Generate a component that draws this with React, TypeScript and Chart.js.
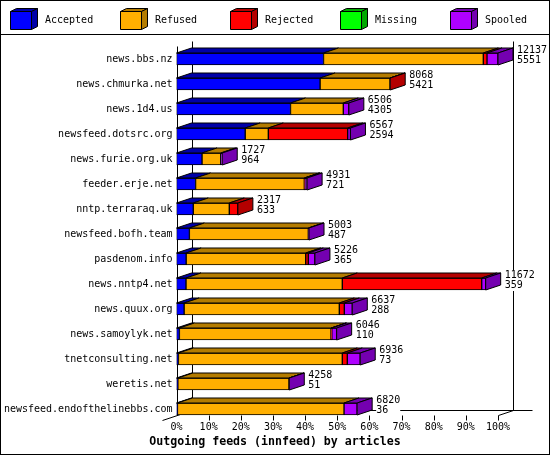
import React, { useEffect, useRef } from "react";
import { Chart, registerables } from "chart.js";

Chart.register(...registerables);

const feeds = [
  "news.bbs.nz",
  "news.chmurka.net",
  "news.1d4.us",
  "newsfeed.dotsrc.org",
  "news.furie.org.uk",
  "feeder.erje.net",
  "nntp.terraraq.uk",
  "newsfeed.bofh.team",
  "pasdenom.info",
  "news.nntp4.net",
  "news.quux.org",
  "news.samoylyk.net",
  "tnetconsulting.net",
  "weretis.net",
  "newsfeed.endofthelinebbs.com",
];
const offered = [12137, 8068, 6506, 6567, 1727, 4931, 2317, 5003, 5226, 11672, 6637, 6046, 6936, 4258, 6820];
const accepted = [5551, 5421, 4305, 2594, 964, 721, 633, 487, 365, 359, 288, 110, 73, 51, 36];
const refused = [6031, 2640, 1992, 872, 705, 4104, 1360, 4489, 4512, 5900, 5858, 5723, 6186, 4196, 6288];
const rejected = [140, 7, 0, 2997, 0, 20, 324, 0, 99, 5263, 189, 30, 189, 0, 0];
const missing = [0, 0, 0, 0, 0, 0, 0, 0, 0, 0, 0, 0, 0, 0, 0];
const spooled = [415, 0, 209, 104, 58, 86, 0, 27, 250, 150, 302, 183, 488, 11, 496];

const seriesNames = ["Accepted", "Refused", "Rejected", "Missing", "Spooled"];
const frontColors = ["#0000FF", "#FFAF00", "#FF0000", "#00FF00", "#AF00FF"];
const darkColors = ["#0000A8", "#B47C00", "#B40000", "#00A800", "#7400B0"];
const xTickStep = 10;
const chartTitle = "Outgoing feeds (innfeed) by articles";

const FONT = "'DejaVu Sans Mono', 'Liberation Mono', monospace";
const DX = 15;
const DY = 5;

const px = (v: number) => Math.round(v) + 0.5;

function poly(ctx: CanvasRenderingContext2D, pts: number[][], fill: string) {
  ctx.beginPath();
  ctx.moveTo(pts[0][0], pts[0][1]);
  for (let i = 1; i < pts.length; i++) ctx.lineTo(pts[i][0], pts[i][1]);
  ctx.closePath();
  ctx.fillStyle = fill;
  ctx.fill();
  ctx.strokeStyle = "#000";
  ctx.lineWidth = 1;
  ctx.stroke();
}

function line(ctx: CanvasRenderingContext2D, x1: number, y1: number, x2: number, y2: number) {
  ctx.beginPath();
  ctx.moveTo(x1, y1);
  ctx.lineTo(x2, y2);
  ctx.stroke();
}

const threeD = {
  id: "threeD",
  beforeDraw(chart: any) {
    const ctx = chart.ctx;
    ctx.save();
    ctx.fillStyle = "#fff";
    ctx.fillRect(0, 0, chart.width, chart.height);
    ctx.restore();
  },
  beforeDatasetsDraw(chart: any) {
    const ctx: CanvasRenderingContext2D = chart.ctx;
    const xs = chart.scales.x;
    const { top } = chart.chartArea;
    const meta0 = chart.getDatasetMeta(0);
    const lastEl = meta0.data[meta0.data.length - 1];
    const floorY = px(lastEl.y + 6);
    const x0 = px(xs.getPixelForValue(0));
    const x100 = px(xs.getPixelForValue(100));
    const topY = px(top - 1);
    ctx.save();
    ctx.strokeStyle = "#000";
    ctx.lineWidth = 1;
    line(ctx, x0, topY, x0, floorY);
    line(ctx, x0 + DX, topY - DY, x0 + DX, floorY - DY);
    line(ctx, x100 + DX, topY - DY, x100 + DX, floorY - DY);
    line(ctx, x0 + DX, floorY - DY, x100 + DX + 19, floorY - DY);
    line(ctx, x0 + DX, floorY - DY, x0 - DX, floorY + DY);
    line(ctx, x100, floorY, x100 + DX, floorY - DY);
    for (let v = xTickStep; v <= 100; v += xTickStep) {
      const xv = px(xs.getPixelForValue(v));
      line(ctx, xv, floorY, xv, floorY + 5);
    }
    ctx.restore();
  },
  afterDatasetsDraw(chart: any) {
    const ctx: CanvasRenderingContext2D = chart.ctx;
    const n = chart.data.labels.length;
    ctx.save();
    for (let i = 0; i < n; i++) {
      let last: any = null;
      let lastK = -1;
      let cy = 0;
      for (let k = 0; k < chart.data.datasets.length; k++) {
        const v = chart.data.datasets[k].data[i];
        const el = chart.getDatasetMeta(k).data[i];
        cy = el.y;
        if (v === null || v === undefined) continue;
        const t = el.y - el.height / 2;
        const a = Math.min(el.base, el.x);
        const b = Math.max(el.base, el.x);
        poly(
          ctx,
          [
            [a, t],
            [a + DX, t - DY],
            [b + DX, t - DY],
            [b, t],
          ],
          darkColors[k]
        );
        last = el;
        lastK = k;
      }
      if (last) {
        const t = last.y - last.height / 2;
        const bt = last.y + last.height / 2;
        const xe = Math.max(last.base, last.x);
        poly(
          ctx,
          [
            [xe, t],
            [xe + DX, t - DY],
            [xe + DX, bt - DY],
            [xe, bt],
          ],
          darkColors[lastK]
        );
        ctx.font = `10px ${FONT}`;
        ctx.textBaseline = "middle";
        ctx.textAlign = "left";
        const lx = xe + DX + 4;
        const s1 = String(offered[i]);
        const s2 = String(accepted[i]);
        const w = Math.max(ctx.measureText(s1).width, ctx.measureText(s2).width);
        ctx.fillStyle = "#fff";
        ctx.fillRect(lx, cy - 14, w, 21);
        ctx.fillStyle = "#000";
        ctx.fillText(s1, lx, cy - 8.5);
        ctx.fillText(s2, lx, cy + 1.5);
      }
    }
    ctx.restore();
  },
  afterDraw(chart: any) {
    const ctx: CanvasRenderingContext2D = chart.ctx;
    ctx.save();
    ctx.strokeStyle = "#000";
    ctx.lineWidth = 1;
    // legend
    chart.data.datasets.forEach((ds: any, k: number) => {
      const bx = 10 + 110 * k;
      const by = 11;
      const w = 21;
      const h = 18;
      const dx = 6;
      const dy = 3;
      poly(
        ctx,
        [
          [bx + 0.5, by + 0.5],
          [bx + dx + 0.5, by - dy + 0.5],
          [bx + w + dx + 0.5, by - dy + 0.5],
          [bx + w + 0.5, by + 0.5],
        ],
        darkColors[k]
      );
      poly(
        ctx,
        [
          [bx + w + 0.5, by + 0.5],
          [bx + w + dx + 0.5, by - dy + 0.5],
          [bx + w + dx + 0.5, by + h - dy + 0.5],
          [bx + w + 0.5, by + h + 0.5],
        ],
        darkColors[k]
      );
      poly(
        ctx,
        [
          [bx + 0.5, by + 0.5],
          [bx + w + 0.5, by + 0.5],
          [bx + w + 0.5, by + h + 0.5],
          [bx + 0.5, by + h + 0.5],
        ],
        frontColors[k]
      );
      ctx.fillStyle = "#000";
      ctx.font = `10px ${FONT}`;
      ctx.textBaseline = "middle";
      ctx.textAlign = "left";
      ctx.fillText(ds.label, bx + 35, 20);
    });
    // title centred on the whole picture
    ctx.fillStyle = "#000";
    ctx.font = `bold 11.6px ${FONT}`;
    ctx.textAlign = "center";
    ctx.textBaseline = "middle";
    ctx.fillText(chartTitle, chart.width / 2, 441.5);
    // separator and frame
    line(ctx, 0, 34.5, chart.width, 34.5);
    ctx.strokeRect(0.5, 0.5, chart.width - 1, chart.height - 1);
    ctx.restore();
  },
};

export default function App() {
  const ref = useRef<HTMLCanvasElement | null>(null);
  useEffect(() => {
    if (!ref.current) return;
    const maxOffered = Math.max(...offered);
    const series = [accepted, refused, rejected, missing, spooled];
    const chart = new Chart(ref.current, {
      type: "bar",
      data: {
        labels: feeds,
        datasets: series.map((arr, k) => ({
          label: seriesNames[k],
          data: arr.map((v) => (v ? (v / maxOffered) * 100 : null)),
          backgroundColor: frontColors[k],
          borderColor: "#000",
          borderWidth: 1,
          borderSkipped: false,
          barThickness: 12,
        })),
      },
      options: {
        indexAxis: "y",
        animation: false,
        responsive: false,
        devicePixelRatio: 1,
        layout: { padding: { top: 46.5, right: 52, bottom: 20.5, left: 0 } },
        plugins: {
          legend: { display: false },
          tooltip: { enabled: false },
          title: { display: false },
        },
        scales: {
          x: {
            stacked: true,
            min: 0,
            max: 100,
            grid: { display: false, drawTicks: false },
            border: { display: false },
            ticks: {
              stepSize: xTickStep,
              callback: (v: any) => v + "%",
              color: "#000",
              font: { family: FONT, size: 10 },
              padding: 0,
              maxRotation: 0,
              autoSkip: false,
            },
            afterFit: (s: any) => {
              s.height = 13;
            },
          },
          y: {
            stacked: true,
            grid: { display: false, drawTicks: false },
            border: { display: false },
            ticks: {
              color: "#000",
              font: { family: FONT, size: 10 },
              padding: 4,
              autoSkip: false,
            },
            afterFit: (s: any) => {
              s.width = 176.5;
            },
          },
        },
      } as any,
      plugins: [threeD],
    });
    return () => chart.destroy();
  }, []);
  return (
    <div style={{ position: "absolute", left: 0, top: 0, width: 550, height: 455, background: "#fff" }}>
      <canvas ref={ref} width={550} height={455} style={{ width: 550, height: 455, display: "block" }} />
    </div>
  );
}
